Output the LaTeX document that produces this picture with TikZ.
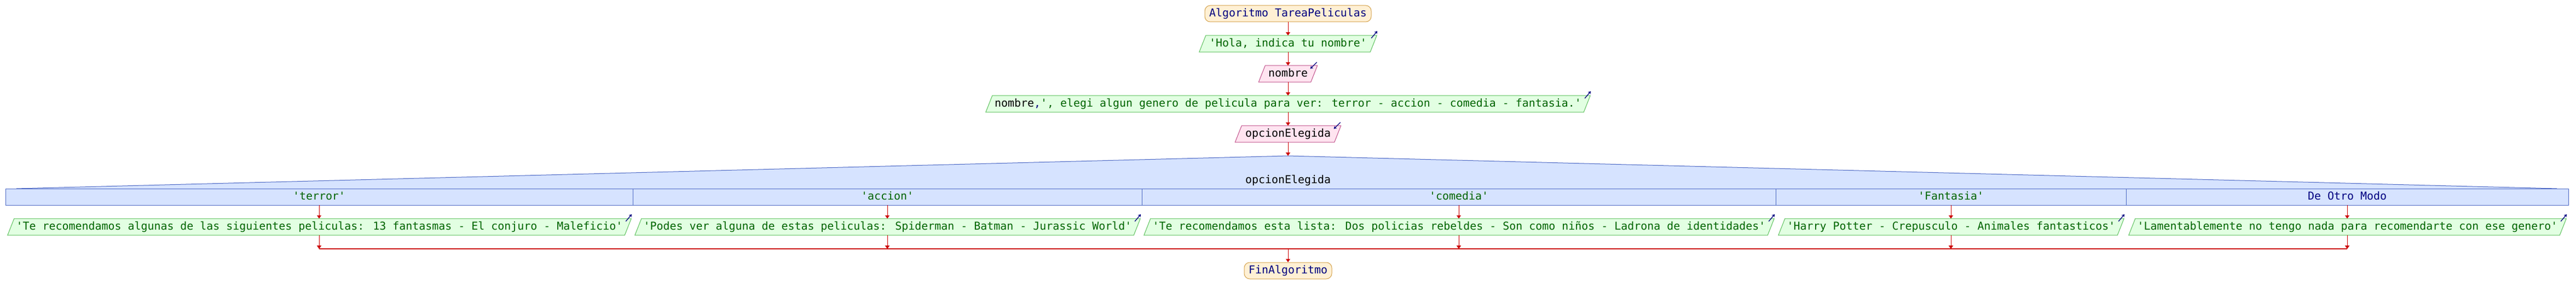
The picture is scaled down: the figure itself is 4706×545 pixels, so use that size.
\documentclass[tikz,border=0pt]{standalone}
\usepackage{fontspec}
\newfontfamily\pmono{DejaVu Sans Mono}
\usetikzlibrary{arrows.meta,calc,backgrounds}
\definecolor{termfill}{HTML}{FFF0D4}
\definecolor{termdraw}{HTML}{D4A24C}
\definecolor{navy}{HTML}{000080}
\definecolor{outfill}{HTML}{E2FFE2}
\definecolor{outdraw}{HTML}{5CC05C}
\definecolor{strgreen}{HTML}{006400}
\definecolor{infill}{HTML}{FFE4F0}
\definecolor{indraw}{HTML}{C0508A}
\definecolor{swfill}{HTML}{D6E3FF}
\definecolor{swdraw}{HTML}{4A66C4}
\definecolor{flow}{HTML}{CC0000}
\begin{document}
\begin{tikzpicture}[x=1pt,y=1pt,
  base/.style={font=\pmono\fontsize{19.93}{24}\selectfont, inner sep=0pt, minimum height=30pt, text height=15pt, text depth=4pt},
  term/.style={base, draw=termdraw, fill=termfill, text=navy, rounded corners=10pt, line width=1pt, inner xsep=8pt},
  outn/.style={base, text=strgreen, minimum width=#1},
  inn/.style={base, text=black, minimum width=#1},
  casebox/.style={base, draw=swdraw, fill=swfill, line width=0.7pt, minimum width=#1},
  flowline/.style={draw=flow, line width=1pt, -{Triangle[length=6pt,width=8pt]}},
  paraout/.style={fill=outfill, draw=outdraw, line width=1pt},
  parain/.style={fill=infill, draw=indraw, line width=1pt},
  iconline/.style={draw=navy, line width=1.3pt, -{Stealth[length=5pt,width=6pt]}}
]
\useasboundingbox (0,0) rectangle (4706,-545);

% top sequence
\node[term] (start) at (2353,-25) {Algoritmo TareaPeliculas};
\node[outn=312] (hola) at (2353,-80) {'Hola, indica tu nombre'};
\node[inn=95] (nombre) at (2353,-135) {nombre};
\node[outn=1092] (pide) at (2353,-190) {{\color{black}nombre}{\color{navy},}', elegi algun genero de pelicula para ver: terror - accion - comedia - fantasia.'};
\node[inn=181] (opc) at (2353,-245) {opcionElegida};

% switch
\coordinate (apex) at (2353,-285);
\path[fill=swfill, draw=swdraw, line width=1pt] (30,-345) -- (apex) -- (4671,-345);
\node[base, anchor=base, text=black] (sel) at (2353,-335) {opcionElegida};
\node[casebox=1146, text=strgreen] (c1) at (583,-360) {'terror'};
\node[casebox=930, text=strgreen] (c2) at (1621,-360) {'accion'};
\node[casebox=1158, text=strgreen] (c3) at (2665,-360) {'comedia'};
\node[casebox=640, text=strgreen] (c4) at (3564,-360) {'Fantasia'};
\node[casebox=808, text=navy] (c5) at (4288,-360) {De Otro Modo};
\draw[swdraw, line width=1pt] (10,-345) rectangle (4692,-375);

% outputs
\node[outn=1127] (o1) at (583.5,-415) {'Te recomendamos algunas de las siguientes peliculas: 13 fantasmas - El conjuro - Maleficio'};
\node[outn=911] (o2) at (1621.5,-415) {'Podes ver alguna de estas peliculas: Spiderman - Batman - Jurassic World'};
\node[outn=1139] (o3) at (2665.5,-415) {'Te recomendamos esta lista: Dos policias rebeldes - Son como niños - Ladrona de identidades'};
\node[outn=619] (o4) at (3564.5,-415) {'Harry Potter - Crepusculo - Animales fantasticos'};
\node[outn=787] (o5) at (4288.5,-415) {'Lamentablemente no tengo nada para recomendarte con ese genero'};

\node[term] (fin) at (2353,-495) {FinAlgoritmo};

% shapes behind the I/O nodes
\begin{scope}[on background layer]
\foreach \n in {hola,pide,o1,o2,o3,o4,o5}
  \path[paraout] ([xshift=-6pt]\n.south west) -- ([xshift=6pt]\n.north west) -- ([xshift=6pt]\n.north east) -- ([xshift=-6pt]\n.south east) -- cycle;
\foreach \n in {nombre,opc}
  \path[parain] ([xshift=-6pt]\n.south west) -- ([xshift=6pt]\n.north west) -- ([xshift=6pt]\n.north east) -- ([xshift=-6pt]\n.south east) -- cycle;
\end{scope}

% icons
\foreach \n in {hola,pide,o1,o2,o3,o4,o5}
  \draw[iconline] ($(\n.north east)+(-4,-5)$) -- ($(\n.north east)+(7,8)$);
\foreach \n in {nombre,opc}
  \draw[iconline] ($(\n.north east)+(5,6)$) -- ($(\n.north east)+(-7,-6)$);

% flow
\draw[flowline] (start) -- (hola);
\draw[flowline] (hola) -- (nombre);
\draw[flowline] (nombre) -- (pide);
\draw[flowline] (pide) -- (opc);
\draw[flowline] (opc) -- (apex);
\foreach \i in {1,...,5} {
  \draw[flowline] (c\i.south) -- (c\i.south |- o\i.north);
  \coordinate (m\i) at ($(o\i.south)+(0,-25)$);
  \draw[flowline] (c\i.south |- o\i.south) -- (c\i.south |- m\i);
}
\draw[draw=flow, line width=2pt] (c1.south |- m1) -- (c5.south |- m5);
\coordinate (mc) at (2353,-455);
\draw[flowline] (mc) -- (fin);
\end{tikzpicture}
\end{document}
